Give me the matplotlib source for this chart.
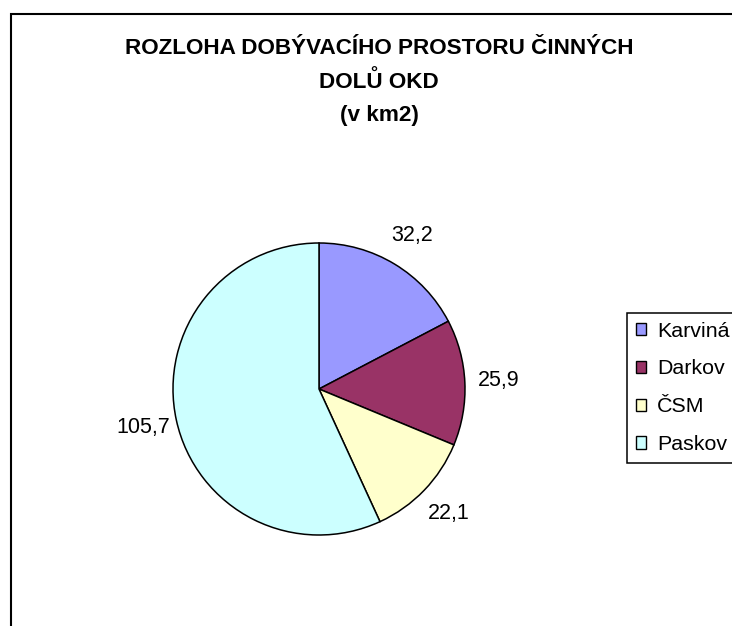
import numpy as np
import matplotlib
matplotlib.use("Agg")
import matplotlib.pyplot as plt
from matplotlib.patches import Patch, Rectangle

# data
mines = ["Karviná", "Darkov", "ČSM", "Paskov"]
area_km2 = [32.2, 25.9, 22.1, 105.7]
colors = ["#9999FF", "#993366", "#FFFFCC", "#CCFFFF"]
title_lines = ["ROZLOHA DOBÝVACÍHO PROSTORU ČINNÝCH", "DOLŮ OKD", "(v km2)"]

plt.rcParams["font.family"] = ["Liberation Sans", "DejaVu Sans"]

W, H = 732, 626
fig = plt.figure(figsize=(W / 100, H / 100), dpi=100)

# outer chart frame (right and bottom edges run past the image)
fig.patches.append(Rectangle((11 / W, -0.1), 1.2, 1 - 14 / H + 0.1,
                             transform=fig.transFigure, fill=False,
                             edgecolor="black", linewidth=1.5))

# pie area: centre (319, 389) px, radius 146 px
cx, cy, r = 319, 389, 146
ax = fig.add_axes([(cx - r) / W, (H - cy - r) / H, 2 * r / W, 2 * r / H])
wedges, _ = ax.pie(area_km2, colors=colors, startangle=90, counterclock=False,
                   wedgeprops=dict(edgecolor="black", linewidth=1.1))
ax.set_xlim(-1, 1)
ax.set_ylim(-1, 1)
ax.set_aspect("equal")
ax.axis("off")

# value labels centred just outside the rim
for w, v in zip(wedges, area_km2):
    ang = np.deg2rad((w.theta1 + w.theta2) / 2)
    x, y = 1.23 * np.cos(ang), 1.23 * np.sin(ang)
    ax.text(x, y, f"{v:.1f}".replace(".", ","), ha="center", va="center",
            fontsize=15.5, clip_on=False)

# title
for i, line in enumerate(title_lines):
    fig.text(379 / W, 1 - (49 + 33 * i) / H, line, ha="center", va="center",
             fontsize=16.2, fontweight="bold")

handles = [Patch(facecolor=c, edgecolor="black", linewidth=1.0) for c in colors]
fig.legend(handles, mines, loc="upper left",
           bbox_to_anchor=(627 / W, 1 - 313 / H), borderaxespad=0,
           fontsize=15.4, frameon=True, fancybox=False, shadow=False,
           edgecolor="black", framealpha=1, borderpad=0.4,
           handlelength=0.5, handleheight=0.5, handletextpad=0.5,
           labelspacing=0.88)
fig.legends[0].get_frame().set_linewidth(1.1)

fig.savefig("out.png", dpi=100)
